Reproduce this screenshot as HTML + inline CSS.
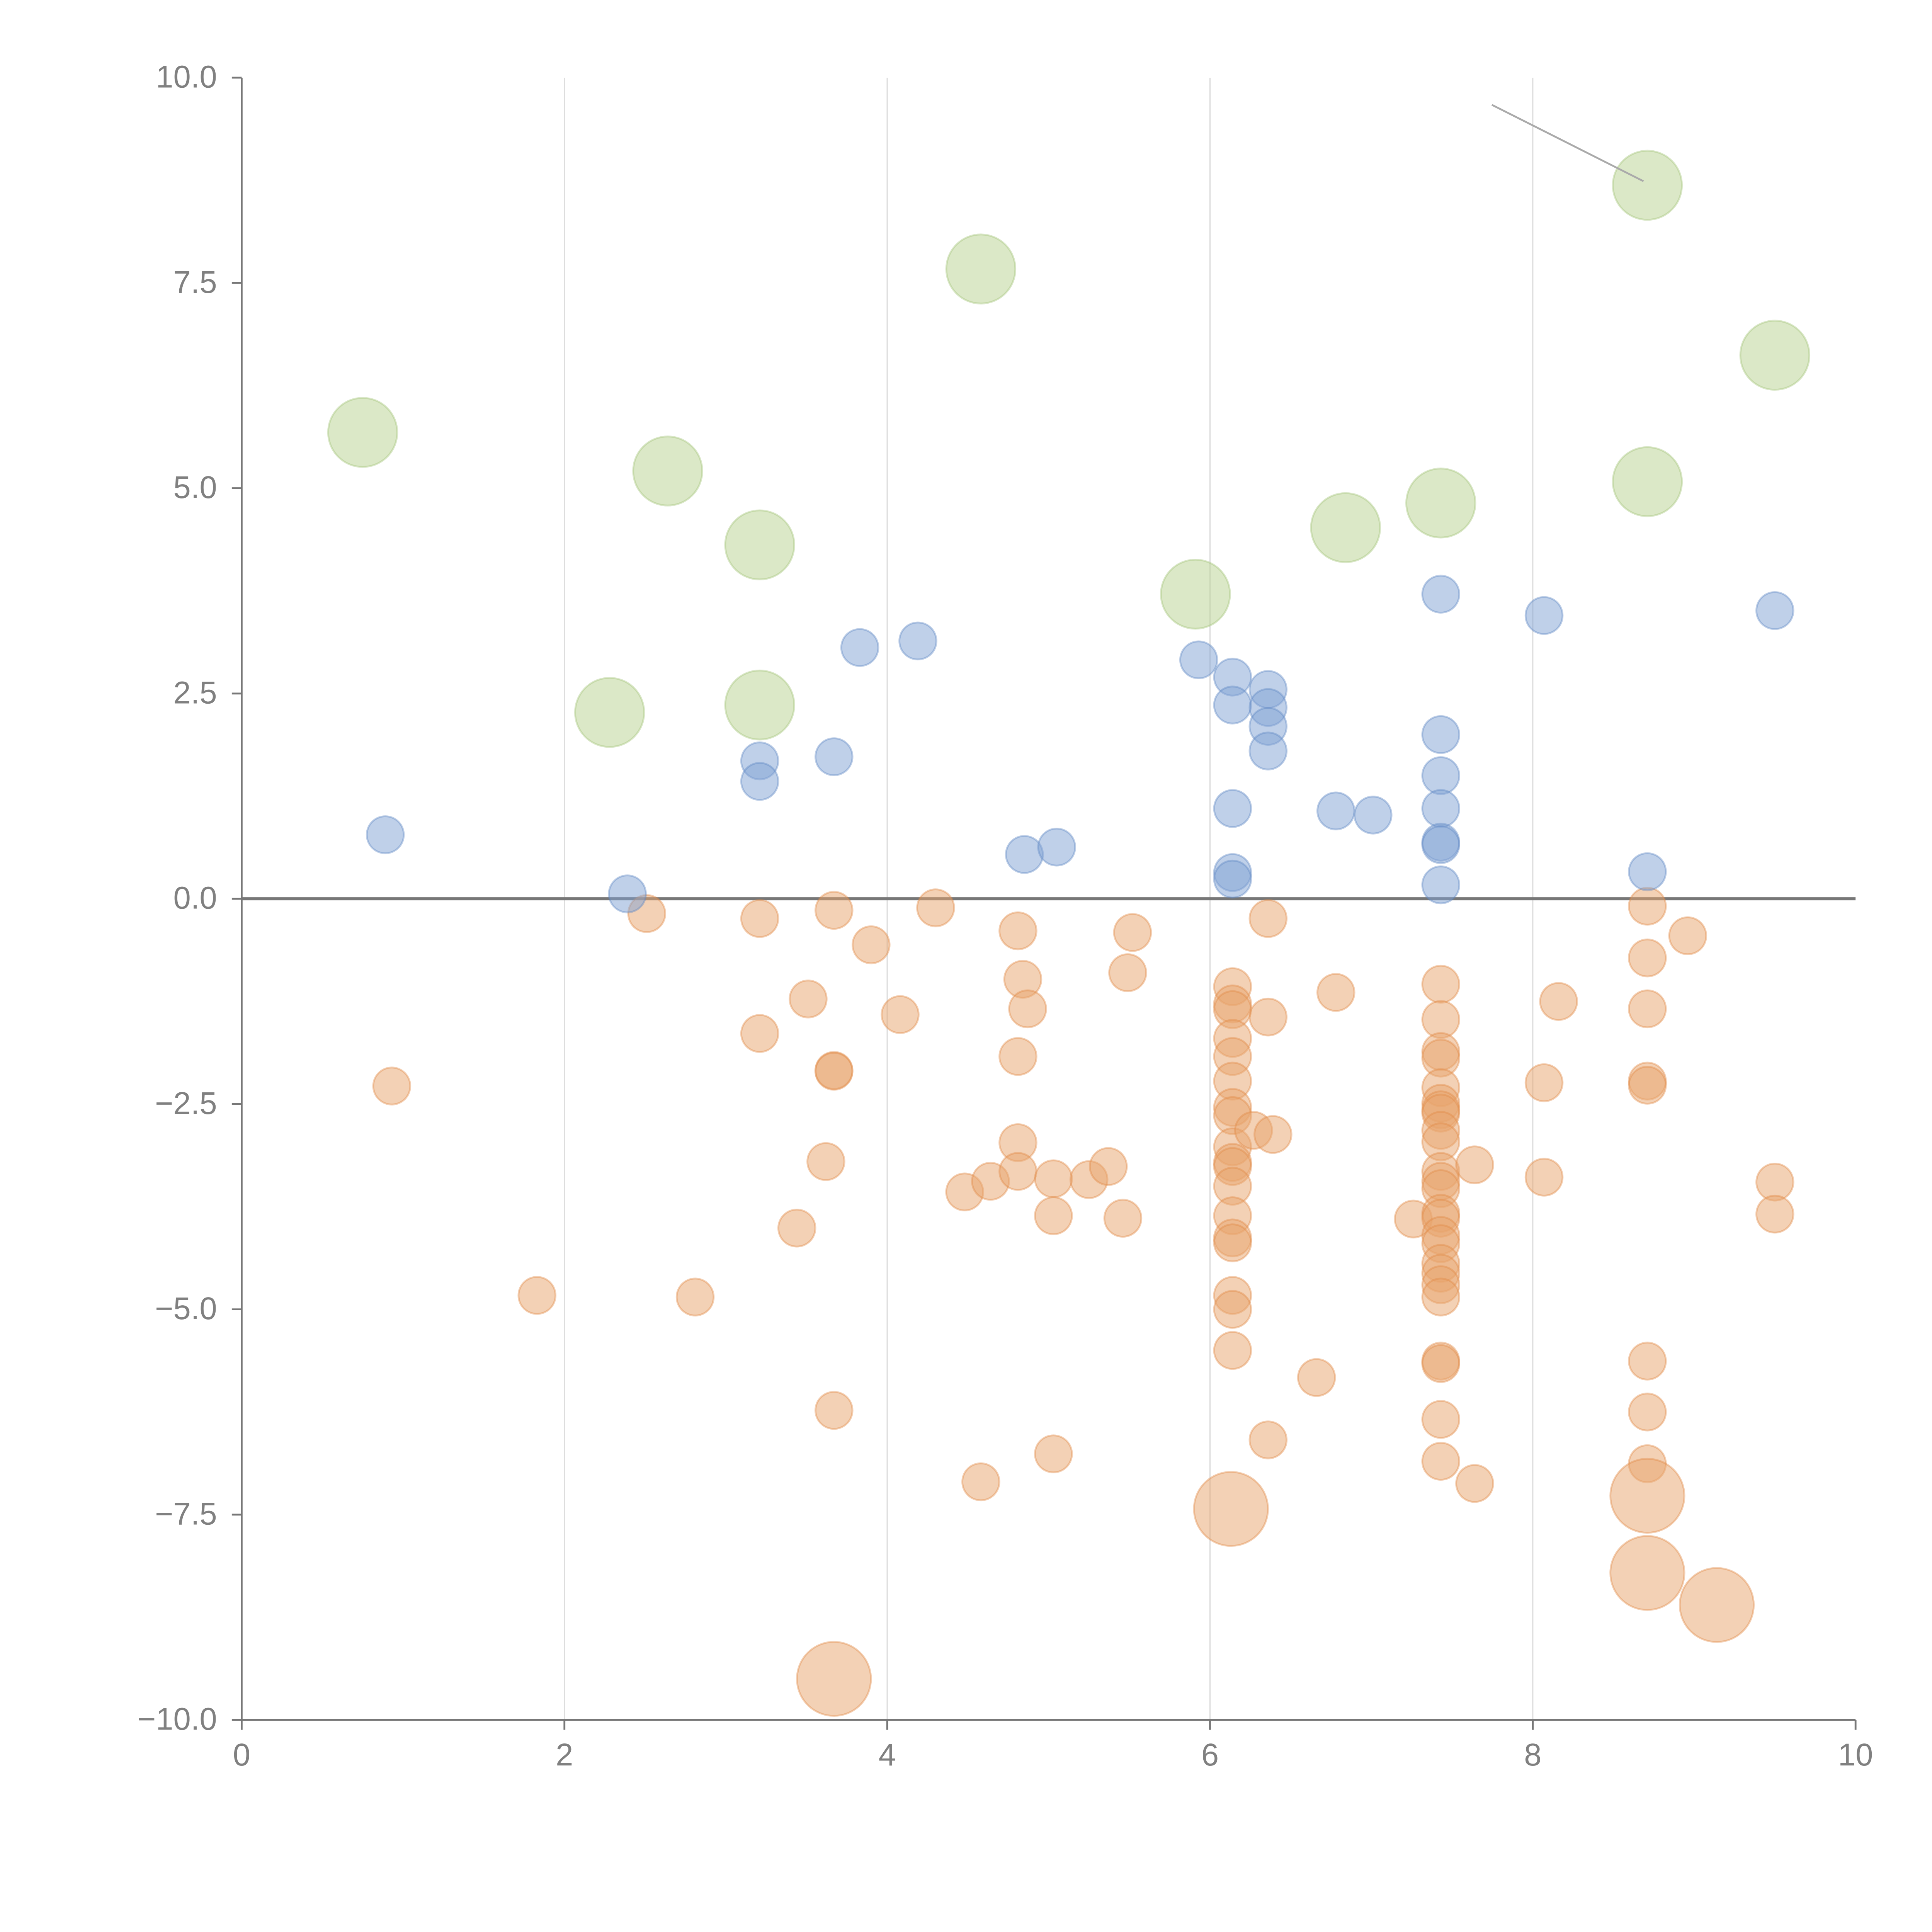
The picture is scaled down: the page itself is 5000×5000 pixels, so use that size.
<!DOCTYPE html>
<html><head><meta charset="utf-8"><style>html,body{margin:0;padding:0;background:#fff}svg{display:block}</style></head>
<body>
<svg id="chart" width="5000" height="5000" viewBox="0 0 1567 1567" xmlns="http://www.w3.org/2000/svg" font-family="Liberation Sans, sans-serif">
<g id="grid"></g>
<g id="marks"></g>
<g id="axes"></g>
</svg>
<script>
const greenX=[0.75,2.64,3.21,2.28,3.21,4.58,5.91,6.84,7.43,8.71,8.71,9.50];
const greenY=[5.68,5.21,4.31,2.27,2.36,7.67,3.71,4.52,4.82,8.69,5.08,6.62];
const blueX=[0.89,2.39,3.21,3.21,3.67,3.83,4.19,4.85,5.05,5.93,6.14,6.14,6.14,6.14,6.14,6.36,6.36,6.36,6.36,6.78,7.01,7.43,7.43,7.43,7.43,7.43,7.43,7.43,8.07,8.71,9.50];
const blueY=[0.78,0.06,1.68,1.43,1.73,3.06,3.14,0.54,0.63,2.91,2.70,2.36,1.10,0.32,0.24,2.55,2.33,2.10,1.80,1.07,1.02,3.71,2.00,1.50,1.10,0.69,0.66,0.17,3.45,0.33,3.51];
const orangeX=[0.93,1.83,2.51,2.81,3.21,3.21,3.51,3.44,3.62,3.67,3.67,3.67,3.67,3.90,4.08,4.30,4.48,4.58,4.64,4.81,4.84,4.87,4.81,4.81,4.81,5.03,5.03,5.03,5.25,5.37,5.46,5.49,5.52,
6.14,6.14,6.14,6.14,6.14,6.14,6.14,6.14,6.14,6.14,6.14,6.14,6.14,6.14,6.14,6.14,6.14,6.14,
6.27,6.39,6.36,6.36,6.36,6.66,6.78,7.26,
7.43,7.43,7.43,7.43,7.43,7.43,7.43,7.43,7.43,7.43,7.43,7.43,7.43,7.43,7.43,7.43,7.43,7.43,7.43,7.43,7.43,7.43,7.43,7.43,7.43,
7.64,7.64,8.07,8.07,8.16,8.71,8.71,8.71,8.71,8.71,8.71,8.71,8.71,8.96,9.50,9.50];
const orangeY=[-2.28,-4.83,-0.18,-4.85,-0.24,-1.64,-1.22,-4.01,-3.20,-0.14,-2.09,-2.10,-6.23,-0.56,-1.41,-0.11,-3.57,-7.10,-3.44,-0.39,-0.98,-1.34,-1.92,-2.97,-3.32,-3.41,-3.86,-6.76,-3.42,-3.26,-3.89,-0.90,-0.41,
-1.07,-1.28,-1.35,-1.70,-1.92,-2.22,-2.54,-2.64,-3.02,-3.21,-3.26,-3.50,-3.86,-4.13,-4.19,-4.83,-5.00,-5.50,
-2.82,-2.87,-0.24,-1.44,-6.59,-5.83,-1.14,-3.90,
-1.04,-1.47,-1.86,-1.94,-2.30,-2.49,-2.57,-2.61,-2.82,-2.96,-3.32,-3.44,-3.53,-3.83,-3.89,-4.10,-4.20,-4.44,-4.56,-4.70,-4.85,-5.63,-5.66,-6.34,-6.85,
-3.24,-7.12,-2.24,-3.39,-1.25,-0.09,-0.72,-1.34,-2.22,-2.27,-5.63,-6.25,-6.88,-0.45,-3.45,-3.84];
const bigOrangeX=[3.67,6.13,8.71,8.71,9.14];
const bigOrangeY=[-9.50,-7.43,-7.27,-8.21,-8.60];
const xTicks=[0,2,4,6,8,10];
const yTicks=[10,7.5,5,2.5,0,-2.5,-5,-7.5,-10];
const yTickLabels=["10.0","7.5","5.0","2.5","0.0","\u22122.5","\u22125.0","\u22127.5","\u221210.0"];

const NS='http://www.w3.org/2000/svg';
const X0=196,X1=1505,YT=63,YB=1395;
function sx(v){return X0+(v-0)/(10-0)*(X1-X0);}
function sy(v){return YB-(v+10)/20*(YB-YT);}
function mk(tag,attrs,parent){const e=document.createElementNS(NS,tag);for(const k in attrs)e.setAttribute(k,attrs[k]);parent.appendChild(e);return e;}
const grid=document.getElementById('grid'),marks=document.getElementById('marks'),axes=document.getElementById('axes');
xTicks.forEach(t=>{if(t>0&&t<10){const l=mk('line',{x1:sx(t),x2:sx(t),y1:YT,y2:YB,stroke:'#dddddd','stroke-width':1},grid);

}});
const zl=mk('line',{x1:X0,x2:X1,y1:sy(0),y2:sy(0),stroke:'#777','stroke-width':2.5},grid);


function series(xs,ys,r,fill,stroke,name){xs.forEach((x,i)=>{const c=mk('circle',{cx:sx(x),cy:sy(ys[i]),r:r,fill:fill,'fill-opacity':0.5,stroke:stroke,'stroke-opacity':0.4,'stroke-width':1.5},marks);

});}
series(orangeX,orangeY,15,'#e8a46c','#e08a45','orange-point');
series(bigOrangeX,bigOrangeY,30,'#e8a46c','#e08a45','large-orange-point');
series(blueX,blueY,15,'#7fa1d3','#5f86c4','blue-point');
series(greenX,greenY,28,'#b7d28f','#a3c377','green-point');
const an=mk('line',{x1:1210,y1:85,x2:1333,y2:147,stroke:'#aaa','stroke-width':1.5},marks);


const ys=mk('line',{x1:X0,x2:X0,y1:YT,y2:YB,stroke:'#777','stroke-width':1.5},axes);


const xs=mk('line',{x1:X0,x2:X1,y1:YB,y2:YB,stroke:'#777','stroke-width':1.5},axes);


yTicks.forEach((t,i)=>{const y=sy(t);mk('line',{x1:X0-8,x2:X0,y1:y,y2:y,stroke:'#777','stroke-width':1.5},axes);
const tx=mk('text',{x:X0-20,y:y+8,'text-anchor':'end','font-size':25.5,fill:'#808080'},axes);tx.textContent=yTickLabels[i];

});
xTicks.forEach(t=>{const x=sx(t);mk('line',{x1:x,x2:x,y1:YB,y2:YB+8,stroke:'#777','stroke-width':1.5},axes);
const tx=mk('text',{x:x,y:YB+37,'text-anchor':'middle','font-size':25.5,fill:'#808080'},axes);tx.textContent=String(t);

});
</script>
</body></html>
